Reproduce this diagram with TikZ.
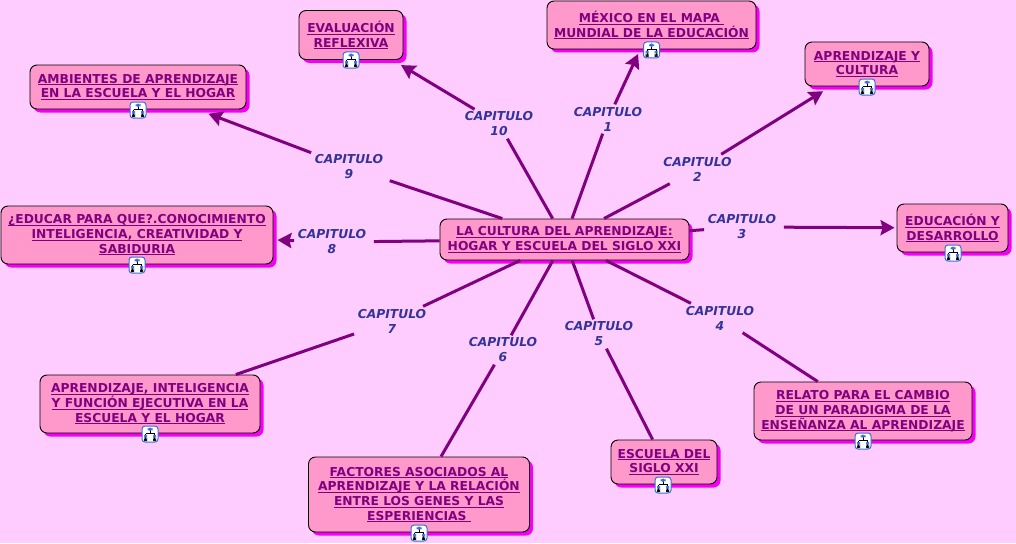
\documentclass[tikz,border=0pt]{standalone}
\usepackage{fontspec}
\setmainfont{DejaVu Sans}
\usepackage{xcolor}
\usetikzlibrary{arrows.meta, shadows}
\definecolor{pagebg}{RGB}{255,204,255}
\definecolor{boxfill}{RGB}{255,153,204}
\definecolor{boxshade}{RGB}{245,0,245}
\definecolor{linkcol}{RGB}{128,0,128}
\definecolor{labelcol}{RGB}{51,51,153}
\definecolor{iconblue}{RGB}{60,110,215}
\newcommand{\lnk}[1]{\setbox0=\hbox{#1}\dp0=0pt\underline{\box0}}
\tikzset{
  concept/.style={
    draw=black, line width=0.9pt, fill=boxfill, rounded corners=7pt, align=center, inner sep=0pt,
    text=linkcol, font=\fontsize{12.3}{14.7}\selectfont\bfseries,
    drop shadow={shadow xshift=3.5pt, shadow yshift=-3.5pt, fill=boxshade, opacity=1}
  },
  caplabel/.style={
    align=center, inner xsep=3.5pt, inner ysep=0pt, minimum height=29pt, text=labelcol,
    font=\fontsize{12.3}{15}\selectfont\bfseries\itshape
  },
  mapicon/.style={
    draw=iconblue, line width=1pt, fill=white, rounded corners=3pt, minimum size=16pt, inner sep=0pt,
    path picture={
      \draw[black, line width=0.8pt] (0,-4) -- (0,0) (-4.5,-0.5) -- (4.5,-0.5) (-4.5,-0.5) -- (-4.5,5) (4.5,-0.5) -- (4.5,5);
      \fill[iconblue] (-2.5,-6.5) rectangle (2.5,-3);
      \fill[iconblue] (-6,1) rectangle (-3,3.5);
      \fill[iconblue] (3,1) rectangle (6,3.5);
      \fill[black] (-6,4.5) rectangle (-3,7);
      \fill[black] (3,4.5) rectangle (6,7);
    }
  },
  link/.style={draw=linkcol, line width=3pt},
  every edge/.style={draw=linkcol, line width=3pt, -{Stealth[length=14pt, width=15pt, inset=2pt]}},
}
\begin{document}
\begin{tikzpicture}[x=1pt, y=-1pt]
  \path[use as bounding box, fill=pagebg] (0,0) rectangle (1016,543);

  % labels first so the lines can leave them
  \node[caplabel] (cap1) at (608,119) {CAPITULO\\1};
  \node[caplabel] (cap2) at (697.5,169) {CAPITULO\\2};
  \node[caplabel] (cap3) at (742,227) {CAPITULO\\3};
  \node[caplabel] (cap4) at (720,318) {CAPITULO\\4};
  \node[caplabel] (cap5) at (599,334) {CAPITULO\\5};
  \node[caplabel] (cap6) at (503,350) {CAPITULO\\6};
  \node[caplabel] (cap7) at (392,321) {CAPITULO\\7};
  \node[caplabel] (cap8) at (332,242) {CAPITULO\\8};
  \node[caplabel] (cap9) at (349,167) {CAPITULO\\9};
  \node[caplabel] (cap10) at (499,124) {CAPITULO\\10};

  \node[concept, minimum width=249pt, minimum height=41pt] (cultura) at (564.5,239.5) {\lnk{LA CULTURA DEL APRENDIZAJE:}\\\lnk{HOGAR Y ESCUELA DEL SIGLO XXI}};
  \node[concept, minimum width=209pt, minimum height=48pt] (mexico) at (651.5,25) {\lnk{MÉXICO EN EL MAPA\ }\\\lnk{MUNDIAL DE LA EDUCACIÓN}};
  \node[concept, minimum width=124pt, minimum height=44pt] (cultura2) at (867,64) {\lnk{APRENDIZAJE Y}\\\lnk{CULTURA}};
  \node[concept, minimum width=111pt, minimum height=48pt] (educacion) at (952.5,228) {\lnk{EDUCACIÓN Y}\\\lnk{DESARROLLO}};
  \node[concept, minimum width=218pt, minimum height=58pt] (relato) at (863,411) {\lnk{RELATO PARA EL CAMBIO}\\\lnk{DE UN PARADIGMA DE LA}\\\lnk{ENSEÑANZA AL APRENDIZAJE}};
  \node[concept, minimum width=106pt, minimum height=44pt] (escuela) at (664,462) {\lnk{ESCUELA DEL}\\\lnk{SIGLO XXI}};
  \node[concept, minimum width=221pt, minimum height=75pt] (factores) at (419,494.5) {\lnk{FACTORES ASOCIADOS AL}\\\lnk{APRENDIZAJE Y LA RELACIÓN}\\\lnk{ENTRE LOS GENES Y LAS}\\\lnk{ESPERIENCIAS\ }};
  \node[concept, minimum width=220pt, minimum height=58pt] (funcion) at (150,404) {\lnk{APRENDIZAJE, INTELIGENCIA}\\\lnk{Y FUNCIÓN EJECUTIVA EN LA}\\\lnk{ESCUELA Y EL HOGAR}};
  \node[concept, minimum width=272pt, minimum height=58pt] (educar) at (137,235) {\lnk{¿EDUCAR PARA QUE?.CONOCIMIENTO}\\\lnk{INTELIGENCIA, CREATIVIDAD Y}\\\lnk{SABIDURIA}};
  \node[concept, minimum width=216pt, minimum height=44pt] (ambientes) at (138,87) {\lnk{AMBIENTES DE APRENDIZAJE}\\\lnk{EN LA ESCUELA Y EL HOGAR}};
  \node[concept, minimum width=104pt, minimum height=49pt] (evaluacion) at (351,35) {\lnk{EVALUACIÓN}\\\lnk{REFLEXIVA}};

  \node[mapicon] (icon1) at (651.5,50) {};
  \node[mapicon] (icon2) at (867,87) {};
  \node[mapicon] (icon3) at (953,253) {};
  \node[mapicon] (icon4) at (863,441) {};
  \node[mapicon] (icon5) at (663,485) {};
  \node[mapicon] (icon6) at (419,533) {};
  \node[mapicon] (icon7) at (150,434) {};
  \node[mapicon] (icon8) at (137,265) {};
  \node[mapicon] (icon9) at (138,110) {};
  \node[mapicon] (icon10) at (351,60) {};

  \foreach \cap in {1,...,7,10} \draw[link] (cultura) -- (cap\cap);
  \draw[link, shorten >=4pt] (cultura) -- (cap8);
  \draw[link, shorten >=3pt] (cultura) -- (cap9);
  \draw[link] (cap4) -- (relato);
  \draw[link] (cap5) -- (escuela);
  \draw[link] (cap6) -- (factores);
  \draw[link] (cap7) -- (funcion);
  \path (cap1) edge[shorten >=5pt] (mexico)
        (cap2) edge[shorten >=9pt] (cultura2)
        (cap3) edge[shorten >=2pt, shorten <=4pt] (educacion)
        (cap8) edge[shorten >=4pt] (educar)
        (cap9) edge[shorten >=12pt] (ambientes)
        (cap10) edge[shorten >=10pt] (evaluacion);
\end{tikzpicture}
\end{document}
